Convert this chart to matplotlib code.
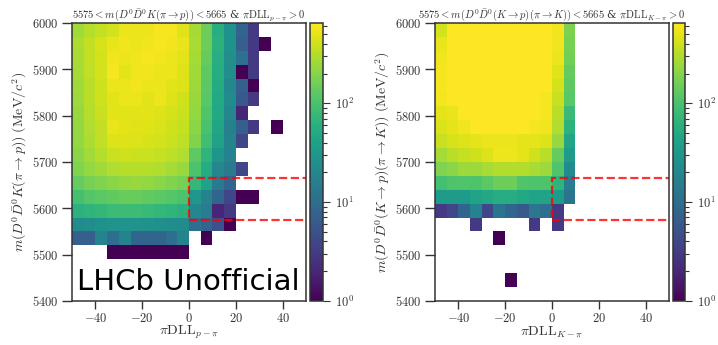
import numpy as np
import matplotlib
matplotlib.use('Agg')
import matplotlib.pyplot as plt
from matplotlib.colors import LogNorm
from matplotlib.patches import Rectangle
from matplotlib.ticker import FuncFormatter, NullFormatter, LogLocator

plt.rcParams['mathtext.fontset'] = 'cm'
plt.rcParams['font.family'] = ['DejaVu Serif']

# binning: piDLL in steps of 5, mass in steps of 30 MeV
dll_edges = np.arange(-50, 51, 5)
mass_edges = np.arange(5400, 6001, 30)

# bin counts, one row per mass bin from the top (5970-6000) to the bottom (5400-5430)
# columns start at piDLL = -50, missing columns are empty
left_counts = [
    [260, 320, 370, 420, 540, 540, 540, 600, 600, 470, 270, 150, 60, 26, 8, 3],
    [290, 360, 440, 530, 570, 540, 570, 600, 570, 530, 280, 150, 62, 27, 7, 3, 1],
    [280, 360, 420, 570, 540, 570, 600, 570, 540, 490, 270, 140, 58, 25, 11, 3],
    [270, 350, 420, 590, 490, 570, 570, 540, 540, 460, 260, 130, 55, 24, 1, 3],
    [260, 330, 400, 540, 540, 570, 540, 540, 490, 460, 250, 125, 52, 20, 7, 1],
    [250, 330, 400, 490, 540, 540, 490, 540, 460, 410, 240, 120, 50, 22, 6, 3],
    [240, 320, 380, 490, 490, 490, 490, 460, 430, 390, 225, 110, 48, 20, 2],
    [230, 300, 360, 520, 480, 470, 470, 450, 410, 370, 210, 100, 45, 17, 7, 3, 0, 1],
    [225, 290, 350, 460, 460, 460, 440, 420, 390, 340, 190, 90, 42, 18, 4],
    [210, 265, 320, 390, 410, 390, 390, 370, 340, 300, 130, 68, 30, 18],
    [185, 225, 260, 300, 320, 320, 320, 300, 270, 240, 105, 54, 20, 14, 4],
    [140, 170, 190, 210, 230, 240, 230, 210, 190, 170, 75, 42, 14, 8],
    [95, 115, 125, 135, 145, 145, 135, 125, 115, 105, 32, 18, 8, 4, 1, 1],
    [62, 68, 72, 82, 82, 82, 78, 72, 68, 62, 20, 15, 2, 3],
    [22, 24, 26, 28, 28, 28, 26, 25, 24, 22, 10, 8, 5, 1],
    [7, 7, 18, 10, 18, 8, 8, 8, 10, 18, 0, 1],
    [0, 0, 0, 1, 1, 1, 1, 1, 1, 1],
    [],
    [],
    [],
]

right_counts = [
    [420, 620, 630, 640, 650, 650, 650, 640, 630, 620, 560, 180],
    [520, 640, 640, 640, 650, 650, 650, 640, 640, 640, 560, 170],
    [560, 640, 640, 640, 650, 650, 650, 640, 640, 640, 540, 160],
    [600, 640, 640, 640, 650, 650, 650, 640, 640, 640, 470, 140],
    [600, 640, 640, 640, 650, 650, 650, 640, 640, 620, 430, 130],
    [580, 640, 640, 640, 650, 650, 650, 640, 640, 600, 380, 120],
    [500, 520, 620, 640, 650, 650, 650, 640, 620, 600, 330, 80],
    [450, 500, 560, 640, 640, 650, 650, 640, 600, 560, 300, 65],
    [380, 440, 460, 500, 540, 540, 540, 500, 500, 460, 240, 45],
    [270, 330, 370, 410, 460, 550, 550, 500, 410, 330, 140, 35],
    [185, 210, 250, 250, 280, 310, 310, 310, 280, 250, 110, 22],
    [93, 106, 110, 106, 128, 150, 150, 110, 106, 106, 67, 15],
    [35, 35, 35, 43, 49, 56, 56, 49, 43, 43, 35, 12],
    [3, 4, 8, 18, 4, 12, 8, 6, 13, 10, 3],
    [0, 0, 0, 3, 0, 0, 0, 0, 3, 0, 3],
    [0, 0, 0, 0, 0, 1],
    [],
    [],
    [0, 0, 0, 0, 0, 0, 1],
    [],
]

xticks = [-40, -20, 0, 20, 40]
yticks = [5400, 5500, 5600, 5700, 5800, 5900, 6000]

# signal window drawn as a dashed box
box_mass = (5575, 5665)
box_dll = 0

titles = [
    r'$5575 < m(D^0\bar{D}^0K(\pi\rightarrow p)) < 5665$ & $\pi\mathrm{DLL}_{p-\pi} > 0$',
    r'$5575 < m(D^0\bar{D}^0(K\rightarrow p)(\pi\rightarrow K)) < 5665$ & $\pi\mathrm{DLL}_{K-\pi} > 0$',
]
xlabels = [r'$\pi\mathrm{DLL}_{p-\pi}$', r'$\pi\mathrm{DLL}_{K-\pi}$']
ylabels = [
    r'$m(D^0\bar{D}^0K(\pi\rightarrow p))\ (\mathrm{MeV}/c^2)$',
    r'$m(D^0\bar{D}^0(K\rightarrow p)(\pi\rightarrow K))\ (\mathrm{MeV}/c^2)$',
]


def to_grid(rows):
    grid = np.array([r + [0] * (20 - len(r)) for r in rows], dtype=float)
    return np.ma.masked_less_equal(grid[::-1], 0)


fig = plt.figure(figsize=(7.18, 3.45), dpi=100)
W, H = 718.0, 345.0
layout = [((72, 306), (310, 323)), ((435, 669), (673, 685))]
tick_col = '#333333'

for i, counts in enumerate([left_counts, right_counts]):
    (ax0, ax1), (cx0, cx1) = layout[i]
    ax = fig.add_axes([ax0 / W, 44 / H, (ax1 - ax0) / W, 278 / H])
    cax = fig.add_axes([cx0 / W, 44 / H, (cx1 - cx0) / W, 278 / H])

    mesh = ax.pcolormesh(dll_edges, mass_edges, to_grid(counts), cmap='viridis',
                         norm=LogNorm(vmin=1, vmax=650))
    ax.add_patch(Rectangle((box_dll, box_mass[0]), 60, box_mass[1] - box_mass[0],
                           fill=False, ls='--', lw=1.6, ec='red', alpha=0.8))
    ax.set_xlim(-50, 50)
    ax.set_ylim(5400, 6000)
    ax.set_xticks(xticks)
    ax.set_yticks(yticks)
    fmt = FuncFormatter(lambda v, p: r'$%d$' % v)
    ax.xaxis.set_major_formatter(fmt)
    ax.yaxis.set_major_formatter(fmt)
    ax.tick_params(labelsize=9, colors=tick_col, length=7, width=1.0, pad=3)
    ax.tick_params(axis='x', length=6, pad=2)
    for s in ax.spines.values():
        s.set_color('#333333')
        s.set_linewidth(1.1)
    ax.set_title(titles[i], fontsize=7.6, color=tick_col, pad=3)
    ax.set_xlabel(xlabels[i], fontsize=10, color=tick_col, labelpad=-1)
    ax.set_ylabel(ylabels[i], fontsize=10, color=tick_col, labelpad=2)

    cb = fig.colorbar(mesh, cax=cax)
    cax.yaxis.set_major_locator(LogLocator(base=10))
    cax.yaxis.set_minor_locator(LogLocator(base=10, subs=np.arange(2, 10)))
    cax.yaxis.set_major_formatter(FuncFormatter(lambda v, p: r'$10^{%d}$' % round(np.log10(v))))
    cax.yaxis.set_minor_formatter(NullFormatter())
    cax.tick_params(which='major', length=5, width=0.8, labelsize=9, colors=tick_col)
    cax.tick_params(which='minor', length=3, width=0.8, colors=tick_col)
    cb.outline.set_edgecolor('#333333')
    cb.outline.set_linewidth(1.1)

    if i == 0:
        ax.text(0.02, 0.04, 'LHCb Unofficial', transform=ax.transAxes, family='DejaVu Sans',
                fontsize=21, ha='left', va='baseline', color='black')

fig.savefig('out.png', dpi=100)
